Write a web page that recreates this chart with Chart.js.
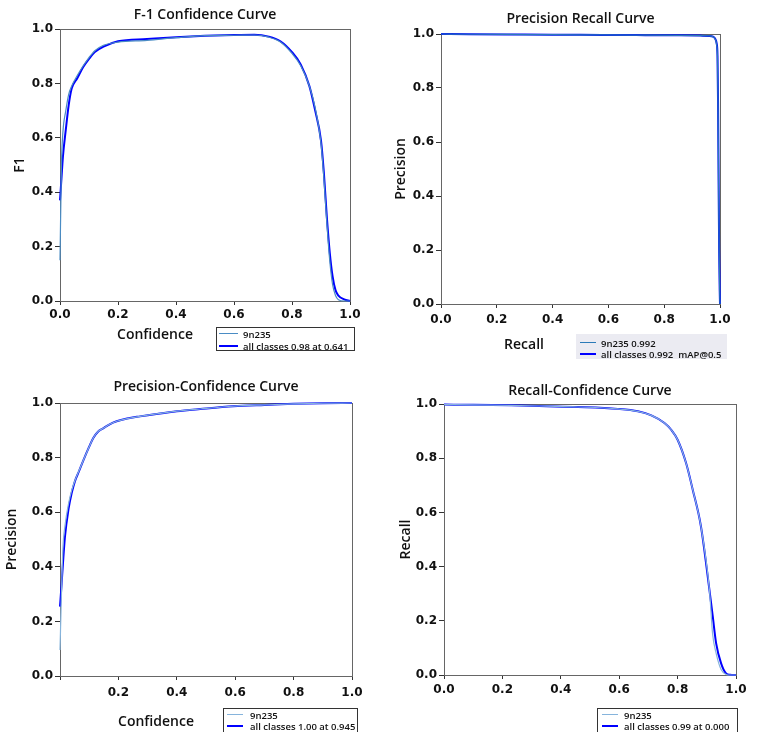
<!DOCTYPE html>
<html>
<head>
<meta charset="utf-8">
<script src="https://cdn.jsdelivr.net/npm/chart.js@4.4.0/dist/chart.umd.min.js"></script>
<style>
body { margin: 0; background: #fff; width: 758px; height: 732px; overflow: hidden; position: relative; }
canvas { position: absolute; }
.xt { position: absolute; font: 600 14px "Open Sans"; color: #111; transform: translate(-50%, -50%); white-space: nowrap; }
.lg { position: absolute; box-sizing: border-box; background: #fff; border: 1px solid #333; font: 600 9.5px "Open Sans"; color: #111; }
.lg.flat { background: #ebebf2; border: none; }
.row { position: absolute; white-space: pre; transform: translateY(-50%); line-height: 11px; }
.sw { position: absolute; height: 0; }
</style>
</head>
<body>
<canvas id="c1"></canvas>
<canvas id="c2"></canvas>
<canvas id="c3"></canvas>
<canvas id="c4"></canvas>
<script>
// ---- data ----
// F-1 vs confidence
var f1Conf = [0, 0.005, 0.01, 0.02, 0.03, 0.04, 0.06, 0.08, 0.1, 0.12, 0.15, 0.2, 0.3, 0.4, 0.5, 0.6, 0.67, 0.72, 0.76, 0.8, 0.83, 0.86, 0.88, 0.9, 0.91, 0.92, 0.93, 0.94, 0.95, 0.96, 0.98, 1.0];
var f1All  = [0.37, 0.45, 0.53, 0.63, 0.72, 0.78, 0.82, 0.86, 0.89, 0.915, 0.935, 0.955, 0.963, 0.97, 0.975, 0.978, 0.979, 0.972, 0.955, 0.915, 0.87, 0.79, 0.70, 0.59, 0.47, 0.31, 0.18, 0.09, 0.04, 0.02, 0.006, 0];
var f1Cls  = [0.15, 0.5, 0.62, 0.7, 0.76, 0.79, 0.83, 0.865, 0.895, 0.92, 0.94, 0.952, 0.958, 0.968, 0.976, 0.977, 0.978, 0.97, 0.952, 0.91, 0.865, 0.79, 0.71, 0.58, 0.45, 0.29, 0.15, 0.06, 0.02, 0.005, 0, 0];

// precision vs recall
var prRecall = [0, 0.1, 0.3, 0.5, 0.7, 0.85, 0.93, 0.96, 0.975, 0.983, 0.988, 0.991, 0.993, 0.995, 0.997, 0.999, 1.0];
var prAll    = [1.0, 0.999, 0.998, 0.997, 0.996, 0.995, 0.994, 0.993, 0.99, 0.982, 0.965, 0.92, 0.75, 0.45, 0.2, 0.05, 0.0];
var prCls    = [1.0, 0.999, 0.998, 0.997, 0.996, 0.995, 0.994, 0.993, 0.99, 0.98, 0.96, 0.91, 0.74, 0.44, 0.19, 0.04, 0.0];

// precision vs confidence
var pcConf = [0, 0.005, 0.01, 0.017, 0.029, 0.04, 0.051, 0.065, 0.08, 0.1, 0.114, 0.13, 0.149, 0.17, 0.194, 0.23, 0.274, 0.33, 0.4, 0.48, 0.594, 0.7, 0.8, 0.9, 1.0];
var pcAll  = [0.254, 0.33, 0.41, 0.51, 0.61, 0.67, 0.713, 0.75, 0.79, 0.84, 0.872, 0.895, 0.908, 0.922, 0.933, 0.943, 0.951, 0.96, 0.97, 0.978, 0.988, 0.993, 0.997, 0.999, 1.0];
var pcCls  = [0.095, 0.3, 0.47, 0.55, 0.63, 0.68, 0.715, 0.752, 0.79, 0.84, 0.872, 0.895, 0.908, 0.922, 0.933, 0.943, 0.951, 0.96, 0.97, 0.978, 0.988, 0.993, 0.997, 0.999, 1.0];

// recall vs confidence
var rcConf = [0, 0.1, 0.23, 0.35, 0.458, 0.595, 0.664, 0.71, 0.755, 0.778, 0.8, 0.829, 0.852, 0.88, 0.909, 0.92, 0.932, 0.949, 0.966, 0.98, 1.0];
var rcAll  = [0.998, 0.997, 0.995, 0.992, 0.989, 0.982, 0.973, 0.958, 0.93, 0.905, 0.868, 0.782, 0.683, 0.548, 0.314, 0.22, 0.117, 0.043, 0.006, 0.001, 0.0];
var rcCls  = [0.998, 0.997, 0.995, 0.992, 0.989, 0.982, 0.973, 0.958, 0.93, 0.905, 0.868, 0.782, 0.683, 0.548, 0.314, 0.15, 0.08, 0.02, 0.002, 0, 0.0];

var axisTicks = [0, 0.2, 0.4, 0.6, 0.8, 1.0];
var clsName = '9n235';

function pts(xs, ys) {
	return xs.map(function (x, i) { return { x: x, y: ys[i] }; });
}

var frame = {
	id: 'frame',
	beforeDatasetsDraw: function (chart) {
		var a = chart.chartArea, ctx = chart.ctx;
		ctx.save();
		ctx.strokeStyle = '#666';
		ctx.lineWidth = 1;
		ctx.strokeRect(Math.round(a.left) + 0.5, Math.round(a.top) + 0.5, Math.round(a.width), Math.round(a.height));
		ctx.restore();
	}
};

var W = 379, H = 366;
var tickFont = { family: 'DejaVu Sans', weight: 'bold', size: 12 };
var titleFont = { family: 'Open Sans', weight: '600', size: 14 };

function makeChart(o) {
	var cv = document.getElementById(o.id);
	cv.width = W; cv.height = H;
	cv.style.left = o.cx + 'px'; cv.style.top = o.cy + 'px';
	cv.style.width = W + 'px'; cv.style.height = H + 'px';

	var tc = o.titleY - o.cy - 8.4;
	var xh = 22;

	new Chart(cv, {
		type: 'scatter',
		data: {
			datasets: [{
				label: clsName,
				data: pts(o.xs, o.cls),
				borderColor: o.clsColor,
				borderWidth: 1.2,
				showLine: true,
				pointRadius: 0,
				cubicInterpolationMode: 'monotone',
				clip: 4
			}, {
				label: 'all classes',
				data: pts(o.xs, o.all),
				borderColor: '#0000ff',
				borderWidth: 2,
				showLine: true,
				pointRadius: 0,
				cubicInterpolationMode: 'monotone',
				clip: 4
			}]
		},
		options: {
			responsive: false,
			animation: false,
			events: [],
			layout: { padding: { left: 0, top: 0, right: o.cx + W - o.R, bottom: o.cy + H - o.B - xh } },
			plugins: {
				legend: { display: false },
				tooltip: { enabled: false },
				title: {
					display: true, text: o.title, font: titleFont, color: '#111', fullSize: false,
					padding: { top: tc, bottom: o.T - o.titleY - 8.4 }
				}
			},
			scales: {
				x: {
					type: 'linear', min: 0, max: 1,
					afterBuildTicks: function (s) { s.ticks = axisTicks.map(function (v) { return { value: v }; }); },
					afterFit: function (s) { s.height = xh; },
					ticks: {
						font: tickFont, color: '#111', padding: o.xPad, maxRotation: 0,
						callback: function (v) { return (o.hideZero && v === 0) ? '' : v.toFixed(1); }
					},
					grid: { drawOnChartArea: false, drawTicks: true, tickLength: 4, color: '#333' },
					border: { display: true, color: '#333' }
				},
				y: {
					type: 'linear', min: 0, max: 1,
					afterBuildTicks: function (s) { s.ticks = axisTicks.map(function (v) { return { value: v }; }); },
					afterFit: function (s) { s.width = o.L - o.cx; },
					ticks: { font: tickFont, color: '#111', padding: 2, callback: function (v) { return v.toFixed(1); } },
					grid: { drawOnChartArea: false, drawTicks: true, tickLength: 5, color: '#333' },
					border: { display: true, color: '#333' },
					title: { display: true, text: o.yTitle, font: titleFont, color: '#111', padding: { top: o.yTitleX - o.cx - 8.4 } }
				}
			}
		},
		plugins: [frame]
	});
}

makeChart({ id: 'c1', cx: 0, cy: 0, L: 60, T: 29, R: 350, B: 301, titleY: 15, yTitleX: 20, xPad: 3,
	title: 'F-1 Confidence Curve', yTitle: 'F1', xs: f1Conf, all: f1All, cls: f1Cls, clsColor: '#4a8cc4' });
makeChart({ id: 'c2', cx: 379, cy: 0, L: 441, T: 34, R: 720, B: 304, titleY: 19, yTitleX: 401, xPad: 5,
	title: 'Precision Recall Curve', yTitle: 'Precision', xs: prRecall, all: prAll, cls: prCls, clsColor: '#2a7ab8' });
makeChart({ id: 'c3', cx: 0, cy: 366, L: 60, T: 403, R: 352, B: 676, titleY: 387, yTitleX: 12, xPad: 6, hideZero: true,
	title: 'Precision-Confidence Curve', yTitle: 'Precision', xs: pcConf, all: pcAll, cls: pcCls, clsColor: '#86b4dc' });
makeChart({ id: 'c4', cx: 379, cy: 366, L: 444, T: 404, R: 736, B: 675, titleY: 391, yTitleX: 406, xPad: 4,
	title: 'Recall-Confidence Curve', yTitle: 'Recall', xs: rcConf, all: rcAll, cls: rcCls, clsColor: '#86b4dc' });

// x axis titles (set left of centre, beside the legends)
function xTitle(text, x, y) {
	var d = document.createElement('div');
	d.className = 'xt'; d.textContent = text;
	d.style.left = x + 'px'; d.style.top = y + 'px';
	document.body.appendChild(d);
}
xTitle('Confidence', 155, 333);
xTitle('Recall', 524, 343);
xTitle('Confidence', 156, 720);

// legends
function legend(box, rows, flat) {
	var d = document.createElement('div');
	d.className = 'lg' + (flat ? ' flat' : '');
	d.style.left = box.x + 'px'; d.style.top = box.y + 'px';
	d.style.width = box.w + 'px'; d.style.height = box.h + 'px';
	rows.forEach(function (r) {
		var s = document.createElement('div');
		s.className = 'sw';
		s.style.left = box.lx + 'px'; s.style.width = box.lw + 'px';
		s.style.top = (r.y - r.lw / 2) + 'px';
		s.style.borderTop = r.lw + 'px solid ' + r.color;
		d.appendChild(s);
		var t = document.createElement('div');
		t.className = 'row';
		t.style.left = box.tx + 'px'; t.style.top = r.y + 'px';
		t.textContent = r.text;
		d.appendChild(t);
	});
	document.body.appendChild(d);
}
legend({ x: 216, y: 327, w: 139, h: 24, lx: 2, lw: 19, tx: 26 }, [
	{ y: 5.5, text: clsName, color: '#4a8cc4', lw: 1.2 },
	{ y: 17.5, text: 'all classes 0.98 at 0.641', color: '#0000ff', lw: 2 }
]);
legend({ x: 576, y: 334, w: 151, h: 25, lx: 4, lw: 16, tx: 25 }, [
	{ y: 8.5, text: clsName + ' 0.992', color: '#2a7ab8', lw: 1.2 },
	{ y: 20, text: 'all classes 0.992  mAP@0.5', color: '#0000ff', lw: 2 }
], true);
legend({ x: 223, y: 708, w: 135, h: 30, lx: 3, lw: 16, tx: 26 }, [
	{ y: 6, text: clsName, color: '#86b4dc', lw: 1.5 },
	{ y: 16.5, text: 'all classes 1.00 at 0.945', color: '#0000ff', lw: 2 }
]);
legend({ x: 597, y: 708, w: 141, h: 30, lx: 4, lw: 16, tx: 26 }, [
	{ y: 6, text: clsName, color: '#86b4dc', lw: 1.5 },
	{ y: 16.5, text: 'all classes 0.99 at 0.000', color: '#0000ff', lw: 2 }
]);
</script>
</body>
</html>
